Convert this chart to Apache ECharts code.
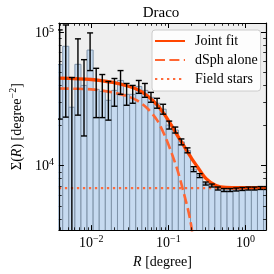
<!DOCTYPE html>
<html><head><meta charset="utf-8">
<script src="https://cdn.jsdelivr.net/npm/echarts@6/dist/echarts.min.js"></script>
<style>html,body{margin:0;padding:0;background:#fff}#c{width:274px;height:274px}</style>
</head><body><div id="c"></div>
<script>
// ---- data ----
const binEdges = [0.00355, 0.00426, 0.00511, 0.00613, 0.00735, 0.00881, 0.01057, 0.01268, 0.01521, 0.01824,
  0.02188, 0.02625, 0.03148, 0.03776, 0.04529, 0.05433, 0.06516, 0.07816, 0.09374, 0.1124,
  0.1349, 0.1618, 0.1941, 0.2327, 0.2791, 0.3348, 0.4016, 0.4817, 0.5778, 0.6931,
  0.8313, 0.9970, 1.196, 1.434, 1.720, 2.064];
const surfaceDensity = [57000, 78100, 27350, 57250, 39810, 73170, 37180, 35940, 30830, 36560,
  43360, 34150, 34150, 39140, 36560, 32450, 29290, 26440, 20120, 18480,
  15060, 13020, 9420, 8430, 7360, 7110, 6750, 6580, 6580, 6640,
  6700, 6750, 6750, 6810, 6810];
const errUpper = [103500, 112700, 45630, 88760, 62030, 98310, 53470, 48030, 42630, 44860,
  51410, 41190, 39810, 43360, 41190, 35330, 31890, 28790, 21540, 19450,
  15850, 13590, 9830, 8720, 7550, 7290, 6930, 6750, 6750, 6810,
  6870, 6920, 6920, 6980, 6980];
const errLower = [22300, 23070, 1000, 23870, 16680, 51410, 22880, 22880, 21910, 27830,
  34150, 28300, 29290, 34740, 32450, 29800, 26900, 24280, 18790, 17550,
  14310, 12480, 9030, 8150, 7170, 6930, 6580, 6410, 6410, 6470,
  6530, 6580, 6580, 6640, 6640];
const jointR = [0.0038, 0.01, 0.019, 0.0296, 0.0397, 0.0532, 0.0714, 0.0902, 0.111, 0.132, 0.153, 0.177, 0.205, 0.238, 0.309, 0.415, 0.556, 0.864, 1.85];
const jointSigma = [45200, 44100, 41900, 39400, 37100, 33300, 28500, 23900, 19800, 16700, 14600, 12700, 11100, 9830, 8010, 7110, 6870, 6840, 6840];
const dsphR = [0.0038, 0.01, 0.019, 0.0296, 0.0397, 0.0532, 0.0714, 0.0902, 0.111, 0.132, 0.153, 0.172, 0.188, 0.202, 0.211];
const dsphSigma = [37800, 37200, 35300, 33000, 30600, 26900, 21900, 16700, 12300, 9180, 6760, 5230, 4190, 3300, 2430];
const fieldR = [0.0038, 1.85];
const fieldSigma = [6800, 6800];
const xMajorTicks = [0.01, 0.1, 1];
const xMinorTicks = [0.004,0.005,0.006,0.007,0.008,0.009,0.02,0.03,0.04,0.05,0.06,0.07,0.08,0.09,0.2,0.3,0.4,0.5,0.6,0.7,0.8,0.9];
const yMajorTicks = [1e4, 1e5];
const yMinorTicks = [4000,5000,6000,7000,8000,9000,20000,30000,40000,50000,60000,70000,80000,90000];
const titleText = 'Draco';
const seriesNames = ['Joint fit', 'dSph alone', 'Field stars'];

// ---- styling ----
const FONT = 'Liberation Serif';
const X_MIN = 0.0038, X_MAX = 1.85, Y_MIN = 3300, Y_MAX = 116600;
const pow10Label = v => {
  const e = Math.round(Math.log10(v));
  return '{b|10}{s|' + (e < 0 ? '\u2212' + (-e) : e) + '}';
};
const labelRich = {
  b: {fontFamily: FONT, fontSize: 14, color: '#000', verticalAlign: 'bottom'},
  s: {fontFamily: FONT, fontSize: 10, color: '#000', verticalAlign: 'bottom', padding: [0, 0, 6, 0]}
};
function axisBase(kind, pos, major, withLine) {
  return {
    type: 'log', logBase: 10, min: kind === 'x' ? X_MIN : Y_MIN, max: kind === 'x' ? X_MAX : Y_MAX,
    position: pos, gridIndex: 0, z: 10,
    axisLine: {show: withLine, lineStyle: {color: '#000', width: 1.2}},
    axisTick: {show: true, inside: true, length: major ? 5 : 2.8,
      customValues: major ? (kind === 'x' ? xMajorTicks : yMajorTicks) : (kind === 'x' ? xMinorTicks : yMinorTicks),
      lineStyle: {color: '#000', width: major ? 1 : 0.8}},
    axisLabel: {show: false},
    splitLine: {show: false}, minorTick: {show: false}, minorSplitLine: {show: false}
  };
}
const xAxes = [axisBase('x', 'bottom', true, true), axisBase('x', 'bottom', false, false),
               axisBase('x', 'top', true, true), axisBase('x', 'top', false, false)];
xAxes[0].axisLabel = {show: true, customValues: xMajorTicks, formatter: pow10Label, rich: labelRich, margin: 4};
xAxes[0].name = '{i|R} [degree]';
xAxes[0].nameLocation = 'middle';
xAxes[0].nameGap = 20;
xAxes[0].nameTextStyle = {fontFamily: FONT, fontSize: 14, color: '#000',
  rich: {i: {fontFamily: FONT, fontSize: 14, fontStyle: 'italic', color: '#000'}}};
const yAxes = [axisBase('y', 'left', true, true), axisBase('y', 'left', false, false),
               axisBase('y', 'right', true, true), axisBase('y', 'right', false, false)];
yAxes[0].axisLabel = {show: true, customValues: yMajorTicks, formatter: pow10Label, rich: labelRich, margin: 5};
yAxes[0].name = '{n|\u03A3(}{i|R}{n|) [degree}{s|\u22122}{n|]}';
yAxes[0].nameLocation = 'middle';
yAxes[0].nameGap = 30;
yAxes[0].nameRotate = 90;
yAxes[0].nameTextStyle = {fontFamily: FONT, fontSize: 14, color: '#000',
  rich: {n: {fontFamily: FONT, fontSize: 14, color: '#000', verticalAlign: 'bottom'},
         i: {fontFamily: FONT, fontSize: 14, fontStyle: 'italic', color: '#000', verticalAlign: 'bottom'},
         s: {fontFamily: FONT, fontSize: 10, color: '#000', verticalAlign: 'bottom', padding: [0, 0, 6, 0]}}};

const barData = surfaceDensity.map((v, i) => [binEdges[i], binEdges[i + 1], v]);
const errData = surfaceDensity.map((v, i) => [binEdges[i], binEdges[i + 1], v, errUpper[i], errLower[i]]);

const option = {
  animation: false,
  backgroundColor: '#ffffff',
  grid: {left: 55, right: 8, top: 23, bottom: 42, show: true, backgroundColor: '#efefef', borderWidth: 0},
  xAxis: xAxes,
  yAxis: yAxes,
  graphic: [{type: 'text', x: 161, y: 13, z: 20,
    style: {text: titleText, fontFamily: FONT, fontSize: 15, fill: '#000', textAlign: 'center', textVerticalAlign: 'middle'}}],
  legend: {
    data: seriesNames, orient: 'vertical', left: 152, top: 30,
    itemWidth: 30, itemHeight: 14, itemGap: 5, padding: [4, 3, 5, 2],
    backgroundColor: 'rgba(255,255,255,0.85)', borderColor: '#cccccc', borderWidth: 1, borderRadius: 3,
    itemStyle: {opacity: 0},
    textStyle: {fontFamily: FONT, fontSize: 14, color: '#000', padding: [0, 0, 0, 5]},
    z: 30
  },
  series: [
    {
      type: 'custom', name: 'bars', xAxisIndex: 0, yAxisIndex: 0, clip: true, z: 1,
      data: barData, encode: {x: [0, 1], y: 2},
      renderItem: (params, api) => {
        const p0 = api.coord([api.value(0), api.value(2)]);
        const p1 = api.coord([api.value(1), 1000]);
        return {type: 'rect', shape: {x: p0[0], y: p0[1], width: p1[0] - p0[0], height: p1[1] - p0[1]},
          style: {fill: '#c6daf0', stroke: '#7f93a8', lineWidth: 1}};
      }
    },
    {
      type: 'line', name: seriesNames[2], xAxisIndex: 0, yAxisIndex: 0, z: 2, symbol: 'none',
      data: fieldR.map((r, i) => [r, fieldSigma[i]]),
      lineStyle: {color: '#ff6a3a', width: 2.4, type: [2.3, 3.7], cap: 'butt'},
      itemStyle: {color: '#ff6a3a'}
    },
    {
      type: 'line', name: seriesNames[1], xAxisIndex: 0, yAxisIndex: 0, z: 2, symbol: 'none',
      smooth: 0.3, data: dsphR.map((r, i) => [r, dsphSigma[i]]),
      lineStyle: {color: '#ff6633', width: 2.6, type: [10, 4.4], cap: 'butt'},
      itemStyle: {color: '#ff6633'}
    },
    {
      type: 'line', name: seriesNames[0], xAxisIndex: 0, yAxisIndex: 0, z: 2, symbol: 'none',
      smooth: 0.3, data: jointR.map((r, i) => [r, jointSigma[i]]),
      lineStyle: {color: '#ff4500', width: 3.3},
      itemStyle: {color: '#ff4500'}
    },
    {
      type: 'custom', name: 'errors', xAxisIndex: 0, yAxisIndex: 0, clip: true, z: 4,
      data: errData, encode: {x: [0, 1], y: [2, 3, 4]},
      renderItem: (params, api) => {
        const xa = api.coord([api.value(0), api.value(2)])[0];
        const xb = api.coord([api.value(1), api.value(2)])[0];
        const xc = (xa + xb) / 2;
        const yt = api.coord([api.value(0), api.value(3)])[1];
        const yb = api.coord([api.value(0), api.value(4)])[1];
        const st = {stroke: '#000', lineWidth: 1.4};
        const c = 3;
        return {type: 'group', children: [
          {type: 'line', shape: {x1: xc, y1: yt, x2: xc, y2: yb}, style: st},
          {type: 'line', shape: {x1: xc - c, y1: yt, x2: xc + c, y2: yt}, style: st},
          {type: 'line', shape: {x1: xc - c, y1: yb, x2: xc + c, y2: yb}, style: st}
        ]};
      }
    }
  ]
};
const chart = echarts.init(document.getElementById('c'), null, {renderer: 'canvas'});
chart.setOption(option);
</script></body></html>
